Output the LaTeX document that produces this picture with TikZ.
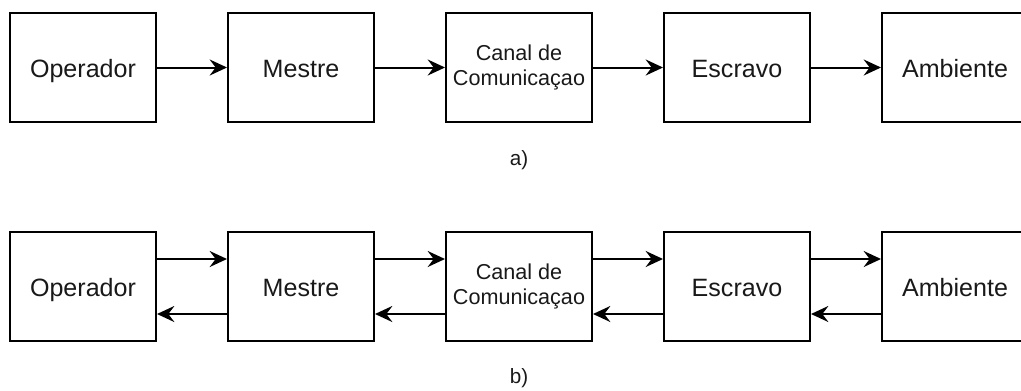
\documentclass[tikz,border=0pt]{standalone}
\usepackage{fontspec}
\setmainfont{Liberation Sans}
\usetikzlibrary{arrows.meta}
\begin{document}
\begin{tikzpicture}[x=0.75pt,y=-0.75pt,
  blk/.style={draw, line width=1.5pt, minimum width=109.5pt, minimum height=81.75pt, inner sep=0pt, text height=14.5pt, text depth=0pt, font=\fontsize{18.8pt}{22pt}\selectfont, text=black!90},
  blks/.style={draw, line width=1.5pt, minimum width=109.5pt, minimum height=81.75pt, inner sep=0pt, font=\fontsize{16.2pt}{19pt}\selectfont, align=center, text=black!90},
  conn/.style={line width=1.5pt, -{Stealth[length=13pt,width=12pt,inset=4.5pt]}},
  sublabel/.style={font=\fontsize{15.5pt}{18pt}\selectfont, text=black!90}]
\useasboundingbox (0,0) rectangle (1021,390);
\clip (0,0) rectangle (1021,390);
% row a
\node[blk]  (a1) at (83,67.5)  {Operador};
\node[blk]  (a2) at (301,67.5) {Mestre};
\node[blks] (a3) at (519,67.5) {Canal de\\Comunicaçao};
\node[blk]  (a4) at (737,67.5) {Escravo};
\node[blk]  (a5) at (955,67.5) {Ambiente};
\draw[conn] (a1) -- (a2);
\draw[conn] (a2) -- (a3);
\draw[conn] (a3) -- (a4);
\draw[conn] (a4) -- (a5);
\node[sublabel] (la) at (519,160) {a)};
% row b
\node[blk]  (b1) at (83,286.5)  {Operador};
\node[blk]  (b2) at (301,286.5) {Mestre};
\node[blks] (b3) at (519,286.5) {Canal de\\Comunicaçao};
\node[blk]  (b4) at (737,286.5) {Escravo};
\node[blk]  (b5) at (955,286.5) {Ambiente};
\foreach \p/\q in {b1/b2,b2/b3,b3/b4,b4/b5}{
  \draw[conn] ([yshift=20.625pt]\p.east) -- ([yshift=20.625pt]\q.west);
  \draw[conn] ([yshift=-20.625pt]\q.west) -- ([yshift=-20.625pt]\p.east);
}
\node[sublabel] (lb) at (519,378) {b)};
\end{tikzpicture}
\end{document}
